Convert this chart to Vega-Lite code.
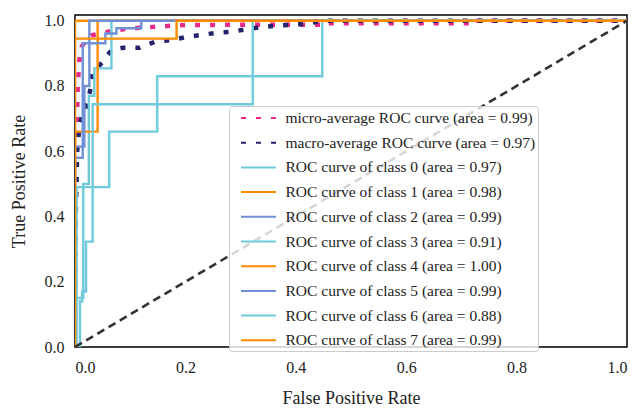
{
  "$schema": "https://vega.github.io/schema/vega-lite/v6.json",
  "autosize": {"type": "none"},
  "width": 552,
  "height": 332,
  "padding": {"left": 75, "top": 15, "right": 12, "bottom": 66},
  "background": "white",
  "config": {
    "view": {"stroke": "black", "strokeWidth": 1.5},
    "font": "Liberation Serif",
    "axis": {"grid": false, "domain": false, "ticks": false, "tickSize": 0, "labelFont": "Liberation Serif", "labelFontSize": 16, "labelColor": "#222", "titleFont": "Liberation Serif", "titleFontSize": 18, "titleFontWeight": "normal", "titleColor": "#222"},
    "legend": {"labelFont": "Liberation Serif", "labelFontSize": 15.5, "labelColor": "#222", "labelLimit": 400}
  },
  "datasets": {
    "avg": [
      {"series": "micro-average ROC curve (area = 0.99)", "i": 0, "x": 0, "y": 0},
      {"series": "micro-average ROC curve (area = 0.99)", "i": 1, "x": 0.002, "y": 0.6},
      {"series": "micro-average ROC curve (area = 0.99)", "i": 2, "x": 0.005, "y": 0.8},
      {"series": "micro-average ROC curve (area = 0.99)", "i": 3, "x": 0.008, "y": 0.88},
      {"series": "micro-average ROC curve (area = 0.99)", "i": 4, "x": 0.012, "y": 0.92},
      {"series": "micro-average ROC curve (area = 0.99)", "i": 5, "x": 0.02, "y": 0.94},
      {"series": "micro-average ROC curve (area = 0.99)", "i": 6, "x": 0.03, "y": 0.955},
      {"series": "micro-average ROC curve (area = 0.99)", "i": 7, "x": 0.05, "y": 0.962},
      {"series": "micro-average ROC curve (area = 0.99)", "i": 8, "x": 0.07, "y": 0.97},
      {"series": "micro-average ROC curve (area = 0.99)", "i": 9, "x": 0.1, "y": 0.976},
      {"series": "micro-average ROC curve (area = 0.99)", "i": 10, "x": 0.15, "y": 0.982},
      {"series": "micro-average ROC curve (area = 0.99)", "i": 11, "x": 0.2, "y": 0.987},
      {"series": "micro-average ROC curve (area = 0.99)", "i": 12, "x": 0.45, "y": 0.988},
      {"series": "micro-average ROC curve (area = 0.99)", "i": 13, "x": 0.45, "y": 0.992},
      {"series": "micro-average ROC curve (area = 0.99)", "i": 14, "x": 0.715, "y": 0.992},
      {"series": "micro-average ROC curve (area = 0.99)", "i": 15, "x": 0.715, "y": 1},
      {"series": "micro-average ROC curve (area = 0.99)", "i": 16, "x": 1, "y": 1},

      {"series": "macro-average ROC curve (area = 0.97)", "i": 0, "x": 0, "y": 0},
      {"series": "macro-average ROC curve (area = 0.97)", "i": 1, "x": 0, "y": 0.3},
      {"series": "macro-average ROC curve (area = 0.97)", "i": 2, "x": 0.002, "y": 0.45},
      {"series": "macro-average ROC curve (area = 0.97)", "i": 3, "x": 0.004, "y": 0.6},
      {"series": "macro-average ROC curve (area = 0.97)", "i": 4, "x": 0.008, "y": 0.68},
      {"series": "macro-average ROC curve (area = 0.97)", "i": 5, "x": 0.015, "y": 0.72},
      {"series": "macro-average ROC curve (area = 0.97)", "i": 6, "x": 0.023, "y": 0.747},
      {"series": "macro-average ROC curve (area = 0.97)", "i": 7, "x": 0.029, "y": 0.8},
      {"series": "macro-average ROC curve (area = 0.97)", "i": 8, "x": 0.032, "y": 0.84},
      {"series": "macro-average ROC curve (area = 0.97)", "i": 9, "x": 0.05, "y": 0.874},
      {"series": "macro-average ROC curve (area = 0.97)", "i": 10, "x": 0.066, "y": 0.91},
      {"series": "macro-average ROC curve (area = 0.97)", "i": 11, "x": 0.087, "y": 0.917},
      {"series": "macro-average ROC curve (area = 0.97)", "i": 12, "x": 0.117, "y": 0.917},
      {"series": "macro-average ROC curve (area = 0.97)", "i": 13, "x": 0.144, "y": 0.935},
      {"series": "macro-average ROC curve (area = 0.97)", "i": 14, "x": 0.171, "y": 0.94},
      {"series": "macro-average ROC curve (area = 0.97)", "i": 15, "x": 0.199, "y": 0.949},
      {"series": "macro-average ROC curve (area = 0.97)", "i": 16, "x": 0.226, "y": 0.956},
      {"series": "macro-average ROC curve (area = 0.97)", "i": 17, "x": 0.257, "y": 0.963},
      {"series": "macro-average ROC curve (area = 0.97)", "i": 18, "x": 0.284, "y": 0.966},
      {"series": "macro-average ROC curve (area = 0.97)", "i": 19, "x": 0.311, "y": 0.974},
      {"series": "macro-average ROC curve (area = 0.97)", "i": 20, "x": 0.34, "y": 0.981},
      {"series": "macro-average ROC curve (area = 0.97)", "i": 21, "x": 0.367, "y": 0.985},
      {"series": "macro-average ROC curve (area = 0.97)", "i": 22, "x": 0.394, "y": 0.988},
      {"series": "macro-average ROC curve (area = 0.97)", "i": 23, "x": 0.422, "y": 0.991},
      {"series": "macro-average ROC curve (area = 0.97)", "i": 24, "x": 0.449, "y": 1},
      {"series": "macro-average ROC curve (area = 0.97)", "i": 25, "x": 1, "y": 1}
    ],
    "cls": [
      {"series": "ROC curve of class 0 (area = 0.97)", "i": 0, "x": 0, "y": 0},
      {"series": "ROC curve of class 0 (area = 0.97)", "i": 1, "x": 0, "y": 0.15},
      {"series": "ROC curve of class 0 (area = 0.97)", "i": 2, "x": 0.015, "y": 0.15},
      {"series": "ROC curve of class 0 (area = 0.97)", "i": 3, "x": 0.015, "y": 0.5},
      {"series": "ROC curve of class 0 (area = 0.97)", "i": 4, "x": 0.025, "y": 0.5},
      {"series": "ROC curve of class 0 (area = 0.97)", "i": 5, "x": 0.025, "y": 0.77},
      {"series": "ROC curve of class 0 (area = 0.97)", "i": 6, "x": 0.035, "y": 0.77},
      {"series": "ROC curve of class 0 (area = 0.97)", "i": 7, "x": 0.035, "y": 0.854},
      {"series": "ROC curve of class 0 (area = 0.97)", "i": 8, "x": 0.066, "y": 0.854},
      {"series": "ROC curve of class 0 (area = 0.97)", "i": 9, "x": 0.066, "y": 1},
      {"series": "ROC curve of class 0 (area = 0.97)", "i": 10, "x": 1, "y": 1},

      {"series": "ROC curve of class 1 (area = 0.98)", "i": 0, "x": 0, "y": 0},
      {"series": "ROC curve of class 1 (area = 0.98)", "i": 1, "x": 0, "y": 0.66},
      {"series": "ROC curve of class 1 (area = 0.98)", "i": 2, "x": 0.041, "y": 0.66},
      {"series": "ROC curve of class 1 (area = 0.98)", "i": 3, "x": 0.041, "y": 1},
      {"series": "ROC curve of class 1 (area = 0.98)", "i": 4, "x": 1, "y": 1},

      {"series": "ROC curve of class 2 (area = 0.99)", "i": 0, "x": 0, "y": 0},
      {"series": "ROC curve of class 2 (area = 0.99)", "i": 1, "x": 0, "y": 0.58},
      {"series": "ROC curve of class 2 (area = 0.99)", "i": 2, "x": 0.014, "y": 0.58},
      {"series": "ROC curve of class 2 (area = 0.99)", "i": 3, "x": 0.014, "y": 0.931},
      {"series": "ROC curve of class 2 (area = 0.99)", "i": 4, "x": 0.055, "y": 0.931},
      {"series": "ROC curve of class 2 (area = 0.99)", "i": 5, "x": 0.055, "y": 0.961},
      {"series": "ROC curve of class 2 (area = 0.99)", "i": 6, "x": 0.075, "y": 0.961},
      {"series": "ROC curve of class 2 (area = 0.99)", "i": 7, "x": 0.075, "y": 0.977},
      {"series": "ROC curve of class 2 (area = 0.99)", "i": 8, "x": 0.12, "y": 0.977},
      {"series": "ROC curve of class 2 (area = 0.99)", "i": 9, "x": 0.12, "y": 1},
      {"series": "ROC curve of class 2 (area = 0.99)", "i": 10, "x": 1, "y": 1},

      {"series": "ROC curve of class 3 (area = 0.91)", "i": 0, "x": 0, "y": 0},
      {"series": "ROC curve of class 3 (area = 0.91)", "i": 1, "x": 0.009, "y": 0},
      {"series": "ROC curve of class 3 (area = 0.91)", "i": 2, "x": 0.009, "y": 0.14},
      {"series": "ROC curve of class 3 (area = 0.91)", "i": 3, "x": 0.013, "y": 0.14},
      {"series": "ROC curve of class 3 (area = 0.91)", "i": 4, "x": 0.013, "y": 0.17},
      {"series": "ROC curve of class 3 (area = 0.91)", "i": 5, "x": 0.02, "y": 0.17},
      {"series": "ROC curve of class 3 (area = 0.91)", "i": 6, "x": 0.02, "y": 0.323},
      {"series": "ROC curve of class 3 (area = 0.91)", "i": 7, "x": 0.032, "y": 0.323},
      {"series": "ROC curve of class 3 (area = 0.91)", "i": 8, "x": 0.032, "y": 0.744},
      {"series": "ROC curve of class 3 (area = 0.91)", "i": 9, "x": 0.322, "y": 0.744},
      {"series": "ROC curve of class 3 (area = 0.91)", "i": 10, "x": 0.322, "y": 1},
      {"series": "ROC curve of class 3 (area = 0.91)", "i": 11, "x": 1, "y": 1},

      {"series": "ROC curve of class 4 (area = 1.00)", "i": 0, "x": 0, "y": 0},
      {"series": "ROC curve of class 4 (area = 1.00)", "i": 1, "x": 0, "y": 1},
      {"series": "ROC curve of class 4 (area = 1.00)", "i": 2, "x": 1, "y": 1},

      {"series": "ROC curve of class 5 (area = 0.99)", "i": 0, "x": 0, "y": 0},
      {"series": "ROC curve of class 5 (area = 0.99)", "i": 1, "x": 0, "y": 0.614},
      {"series": "ROC curve of class 5 (area = 0.99)", "i": 2, "x": 0.017, "y": 0.614},
      {"series": "ROC curve of class 5 (area = 0.99)", "i": 3, "x": 0.017, "y": 0.8},
      {"series": "ROC curve of class 5 (area = 0.99)", "i": 4, "x": 0.026, "y": 0.8},
      {"series": "ROC curve of class 5 (area = 0.99)", "i": 5, "x": 0.026, "y": 1},
      {"series": "ROC curve of class 5 (area = 0.99)", "i": 6, "x": 1, "y": 1},

      {"series": "ROC curve of class 6 (area = 0.88)", "i": 0, "x": 0, "y": 0},
      {"series": "ROC curve of class 6 (area = 0.88)", "i": 1, "x": 0.003, "y": 0},
      {"series": "ROC curve of class 6 (area = 0.88)", "i": 2, "x": 0.003, "y": 0.49},
      {"series": "ROC curve of class 6 (area = 0.88)", "i": 3, "x": 0.062, "y": 0.49},
      {"series": "ROC curve of class 6 (area = 0.88)", "i": 4, "x": 0.062, "y": 0.66},
      {"series": "ROC curve of class 6 (area = 0.88)", "i": 5, "x": 0.149, "y": 0.66},
      {"series": "ROC curve of class 6 (area = 0.88)", "i": 6, "x": 0.149, "y": 0.83},
      {"series": "ROC curve of class 6 (area = 0.88)", "i": 7, "x": 0.448, "y": 0.83},
      {"series": "ROC curve of class 6 (area = 0.88)", "i": 8, "x": 0.448, "y": 1},
      {"series": "ROC curve of class 6 (area = 0.88)", "i": 9, "x": 1, "y": 1},

      {"series": "ROC curve of class 7 (area = 0.99)", "i": 0, "x": 0, "y": 0},
      {"series": "ROC curve of class 7 (area = 0.99)", "i": 1, "x": 0, "y": 0.945},
      {"series": "ROC curve of class 7 (area = 0.99)", "i": 2, "x": 0.184, "y": 0.945},
      {"series": "ROC curve of class 7 (area = 0.99)", "i": 3, "x": 0.184, "y": 1},
      {"series": "ROC curve of class 7 (area = 0.99)", "i": 4, "x": 1, "y": 1}
    ],
    "diag": [
      {"x": 0, "y": 0},
      {"x": 1, "y": 1}
    ]
  },
  "encoding": {
    "x": {"field": "x", "type": "quantitative", "scale": {"domain": [0, 1], "nice": false}, "axis": {"title": "False Positive Rate", "values": [0, 0.2, 0.4, 0.6, 0.8, 1.0], "format": ".1f", "labelPadding": 12, "titlePadding": 14}},
    "y": {"field": "y", "type": "quantitative", "scale": {"domain": [0, 1.0175], "nice": false, "zero": false}, "axis": {"title": "True Positive Rate", "values": [0, 0.2, 0.4, 0.6, 0.8, 1.0], "format": ".1f", "labelPadding": 11, "titlePadding": 16}}
  },
  "layer": [
    {
      "data": {"name": "avg"},
      "mark": {"type": "line", "interpolate": "linear", "strokeCap": "butt", "strokeWidth": 4.5, "clip": true},
      "encoding": {
        "order": {"field": "i", "type": "quantitative"},
        "color": {
          "field": "series", "type": "nominal",
          "scale": {
            "domain": ["micro-average ROC curve (area = 0.99)", "macro-average ROC curve (area = 0.97)", "ROC curve of class 0 (area = 0.97)", "ROC curve of class 1 (area = 0.98)", "ROC curve of class 2 (area = 0.99)", "ROC curve of class 3 (area = 0.91)", "ROC curve of class 4 (area = 1.00)", "ROC curve of class 5 (area = 0.99)", "ROC curve of class 6 (area = 0.88)", "ROC curve of class 7 (area = 0.99)"],
            "range": ["#e8288a", "#24246e", "#6fcbdc", "#ff8c00", "#6f8fd6", "#6fcbdc", "#ff8c00", "#6f8fd6", "#6fcbdc", "#ff8c00"]
          },
          "legend": {
            "title": null, "orient": "none", "legendX": 154, "legendY": 91,
            "symbolType": "M0,0H4", "symbolSize": 306, "symbolStrokeWidth": 2, "symbolFillColor": "transparent",
            "labelOffset": 34.5, "rowPadding": 5.7, "padding": 2,
            "fillColor": "rgba(255,255,255,0.8)", "strokeColor": "#cccccc", "cornerRadius": 3
          }
        },
        "strokeDash": {
          "field": "series", "type": "nominal",
          "scale": {
            "domain": ["micro-average ROC curve (area = 0.99)", "macro-average ROC curve (area = 0.97)", "ROC curve of class 0 (area = 0.97)", "ROC curve of class 1 (area = 0.98)", "ROC curve of class 2 (area = 0.99)", "ROC curve of class 3 (area = 0.91)", "ROC curve of class 4 (area = 1.00)", "ROC curve of class 5 (area = 0.99)", "ROC curve of class 6 (area = 0.88)", "ROC curve of class 7 (area = 0.99)"],
            "range": [[5, 10], [5, 10], [1, 0], [1, 0], [1, 0], [1, 0], [1, 0], [1, 0], [1, 0], [1, 0]]
          }
        }
      }
    },
    {
      "data": {"name": "cls"},
      "mark": {"type": "line", "interpolate": "linear", "strokeCap": "butt", "strokeWidth": 2.4, "clip": true},
      "encoding": {
        "order": {"field": "i", "type": "quantitative"},
        "color": {"field": "series", "type": "nominal"},
        "strokeDash": {"field": "series", "type": "nominal"}
      }
    },
    {
      "data": {"name": "diag"},
      "mark": {"type": "line", "color": "#333333", "strokeDash": [8, 5], "strokeWidth": 2.6},
      "encoding": {}
    }
  ]
}
